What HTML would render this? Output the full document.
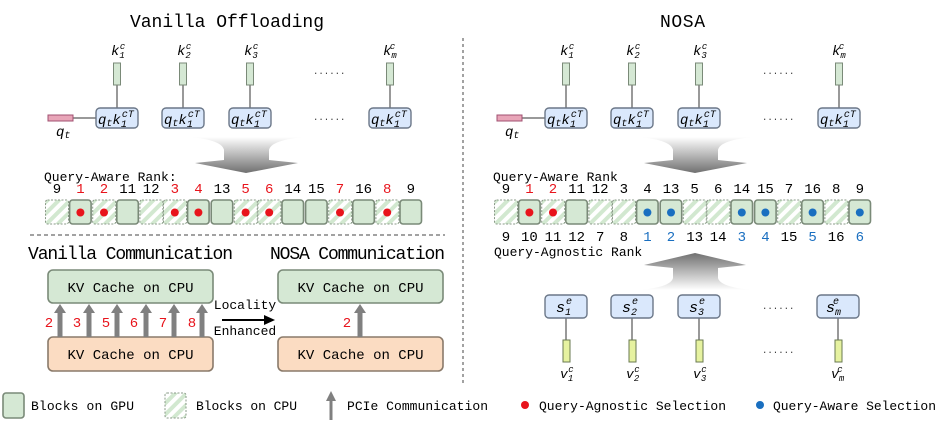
<!DOCTYPE html>
<html><head><meta charset="utf-8"><style>
html,body{margin:0;padding:0;background:#fff}
svg{display:block}
text{font-family:"Liberation Mono","DejaVu Sans Mono",monospace}
.n{font-family:"Liberation Sans",sans-serif;font-size:14px;text-anchor:middle}
.m{font-family:"Liberation Serif",serif;font-style:italic}
</style></head><body>
<svg width="947" height="423" viewBox="0 0 947 423" xmlns="http://www.w3.org/2000/svg">
<defs>
<pattern id="h" width="8" height="8" patternUnits="userSpaceOnUse" patternTransform="rotate(45)">
<rect width="8" height="8" fill="#fff"/><rect width="4" height="8" fill="#d2e8d0"/></pattern>
<linearGradient id="gd" x1="0" y1="0" x2="0" y2="1"><stop offset="0" stop-color="#fff"/><stop offset="1" stop-color="#707070"/></linearGradient>
<linearGradient id="gu" x1="0" y1="1" x2="0" y2="0"><stop offset="0" stop-color="#fff"/><stop offset="1" stop-color="#707070"/></linearGradient>
<g id="gpu"><rect x="1" y="0" width="21.5" height="24" rx="3" fill="#d5e8d4" stroke="#7a8a78" stroke-width="1.6"/></g>
<g id="cpu"><rect x="0.5" y="0" width="23" height="24" rx="2" fill="url(#h)" stroke="#8a9a88" stroke-width="1" stroke-dasharray="2,1.5"/></g>
</defs>

<text x="130" y="27" font-size="18" textLength="194">Vanilla Offloading</text>
<text x="660" y="27" font-size="18" textLength="45">NOSA</text>

<line x1="463" y1="38" x2="463" y2="385" stroke="#444" stroke-dasharray="3,3"/>
<line x1="30" y1="235" x2="445" y2="235" stroke="#444" stroke-dasharray="4,3"/>

<g id="topq">
<g stroke="#333" stroke-width="1">
<line x1="117" y1="85" x2="117" y2="108"/><line x1="183" y1="85" x2="183" y2="108"/>
<line x1="250" y1="85" x2="250" y2="108"/><line x1="390" y1="85" x2="390" y2="108"/>
<line x1="73" y1="118" x2="96" y2="118"/>
</g>
<g fill="#d5e8d4" stroke="#7a8a78">
<rect x="113.5" y="63" width="7" height="22"/><rect x="179.5" y="63" width="7" height="22"/>
<rect x="246.5" y="63" width="7" height="22"/><rect x="386.5" y="63" width="7" height="22"/>
</g>
<rect x="48" y="115" width="25" height="6" fill="#e8a5b8" stroke="#a05070"/>
<g fill="#dae8fc" stroke="#6b7788" stroke-width="1.4">
<rect x="96" y="108" width="42" height="20" rx="4"/><rect x="162" y="108" width="42" height="20" rx="4"/>
<rect x="229" y="108" width="42" height="20" rx="4"/><rect x="369" y="108" width="42" height="20" rx="4"/>
</g>
<g class="m" font-size="14">
<text x="98" y="124">q<tspan font-size="10" dy="2">t</tspan><tspan dy="-2">k</tspan><tspan font-size="10" dy="3">1</tspan><tspan font-size="10" dx="-5" dy="-10">cT</tspan></text>
<text x="164" y="124">q<tspan font-size="10" dy="2">t</tspan><tspan dy="-2">k</tspan><tspan font-size="10" dy="3">1</tspan><tspan font-size="10" dx="-5" dy="-10">cT</tspan></text>
<text x="231" y="124">q<tspan font-size="10" dy="2">t</tspan><tspan dy="-2">k</tspan><tspan font-size="10" dy="3">1</tspan><tspan font-size="10" dx="-5" dy="-10">cT</tspan></text>
<text x="371" y="124">q<tspan font-size="10" dy="2">t</tspan><tspan dy="-2">k</tspan><tspan font-size="10" dy="3">1</tspan><tspan font-size="10" dx="-5" dy="-10">cT</tspan></text>
<text x="56" y="136">q<tspan font-size="10" dy="2">t</tspan></text>
<text x="111" y="55">k<tspan font-size="9" dy="3">1</tspan><tspan font-size="9" dx="-5" dy="-9">c</tspan></text>
<text x="177" y="55">k<tspan font-size="9" dy="3">2</tspan><tspan font-size="9" dx="-5" dy="-9">c</tspan></text>
<text x="244" y="55">k<tspan font-size="9" dy="3">3</tspan><tspan font-size="9" dx="-5" dy="-9">c</tspan></text>
<text x="383" y="55">k<tspan font-size="9" dy="3">m</tspan><tspan font-size="9" dx="-7" dy="-9">c</tspan></text>
</g>
<text x="313" y="74" font-size="9" fill="#333">......</text>
<text x="313" y="120" font-size="9" fill="#333">......</text>
<path d="M190,137 Q222,140 224,150 L224,160 L195,163 L246,173 L298,163 L269,160 L269,150 Q271,140 305,137 Z" fill="url(#gd)"/>
</g>
<use href="#topq" x="449"/>

<text x="44" y="181" font-size="13">Query-Aware Rank:</text>
<text x="493" y="181" font-size="13">Query-Aware Rank</text>

<g transform="translate(45,200)">
<use href="#cpu" x="0"/><use href="#gpu" x="23.6"/><use href="#cpu" x="47.2"/><use href="#gpu" x="70.8"/>
<use href="#cpu" x="94.4"/><use href="#cpu" x="118"/><use href="#gpu" x="141.6"/><use href="#gpu" x="165.2"/>
<use href="#cpu" x="188.8"/><use href="#cpu" x="212.4"/><use href="#gpu" x="236"/><use href="#gpu" x="259.6"/>
<use href="#cpu" x="283.2"/><use href="#gpu" x="306.8"/><use href="#cpu" x="330.4"/><use href="#gpu" x="354"/>
<g fill="#e8141c"><circle cx="35.4" cy="12.5" r="4"/><circle cx="59" cy="12.5" r="4"/><circle cx="129.8" cy="12.5" r="4"/><circle cx="153.4" cy="12.5" r="4"/><circle cx="200.6" cy="12.5" r="4"/><circle cx="224.2" cy="12.5" r="4"/><circle cx="295" cy="12.5" r="4"/><circle cx="342.2" cy="12.5" r="4"/></g>
<g class="n">
<text x="12" y="-7">9</text><text x="35.4" y="-7" fill="#e8141c">1</text><text x="59" y="-7" fill="#e8141c">2</text><text x="82.6" y="-7">11</text><text x="106.2" y="-7">12</text><text x="129.8" y="-7" fill="#e8141c">3</text><text x="153.4" y="-7" fill="#e8141c">4</text><text x="177" y="-7">13</text><text x="200.6" y="-7" fill="#e8141c">5</text><text x="224.2" y="-7" fill="#e8141c">6</text><text x="247.8" y="-7">14</text><text x="271.4" y="-7">15</text><text x="295" y="-7" fill="#e8141c">7</text><text x="318.6" y="-7">16</text><text x="342.2" y="-7" fill="#e8141c">8</text><text x="365.8" y="-7">9</text>
</g></g>

<g transform="translate(494,200)">
<use href="#cpu" x="0"/><use href="#gpu" x="23.6"/><use href="#cpu" x="47.2"/><use href="#gpu" x="70.8"/>
<use href="#cpu" x="94.4"/><use href="#cpu" x="118"/><use href="#gpu" x="141.6"/><use href="#gpu" x="165.2"/>
<use href="#cpu" x="188.8"/><use href="#cpu" x="212.4"/><use href="#gpu" x="236"/><use href="#gpu" x="259.6"/>
<use href="#cpu" x="283.2"/><use href="#gpu" x="306.8"/><use href="#cpu" x="330.4"/><use href="#gpu" x="354"/>
<g fill="#e8141c"><circle cx="35.4" cy="12.5" r="4"/><circle cx="59" cy="12.5" r="4"/></g>
<g fill="#1a6fc0"><circle cx="153.4" cy="12.5" r="4"/><circle cx="177" cy="12.5" r="4"/><circle cx="247.8" cy="12.5" r="4"/><circle cx="271.4" cy="12.5" r="4"/><circle cx="318.6" cy="12.5" r="4"/><circle cx="365.8" cy="12.5" r="4"/></g>
<g class="n">
<text x="12" y="-7">9</text><text x="35.4" y="-7" fill="#e8141c">1</text><text x="59" y="-7" fill="#e8141c">2</text><text x="82.6" y="-7">11</text><text x="106.2" y="-7">12</text><text x="129.8" y="-7">3</text><text x="153.4" y="-7">4</text><text x="177" y="-7">13</text><text x="200.6" y="-7">5</text><text x="224.2" y="-7">6</text><text x="247.8" y="-7">14</text><text x="271.4" y="-7">15</text><text x="295" y="-7">7</text><text x="318.6" y="-7">16</text><text x="342.2" y="-7">8</text><text x="365.8" y="-7">9</text>
<text x="12" y="41">9</text><text x="35.4" y="41">10</text><text x="59" y="41">11</text><text x="82.6" y="41">12</text><text x="106.2" y="41">7</text><text x="129.8" y="41">8</text><text x="153.4" y="41" fill="#1a6fc0">1</text><text x="177" y="41" fill="#1a6fc0">2</text><text x="200.6" y="41">13</text><text x="224.2" y="41">14</text><text x="247.8" y="41" fill="#1a6fc0">3</text><text x="271.4" y="41" fill="#1a6fc0">4</text><text x="295" y="41">15</text><text x="318.6" y="41" fill="#1a6fc0">5</text><text x="342.2" y="41">16</text><text x="365.8" y="41" fill="#1a6fc0">6</text>
</g></g>
<text x="494" y="256" font-size="13">Query-Agnostic Rank</text>

<path d="M640,290 Q671,287 673,278 L673,268 L644,265 L695,253 L746,265 L718,268 L718,278 Q720,287 752,290 Z" fill="url(#gu)"/>

<g stroke="#333"><line x1="566" y1="318" x2="566" y2="340"/><line x1="632" y1="318" x2="632" y2="340"/><line x1="699" y1="318" x2="699" y2="340"/><line x1="838" y1="318" x2="838" y2="340"/></g>
<g fill="#dae8fc" stroke="#6b7788" stroke-width="1.4">
<rect x="545" y="295" width="42" height="23" rx="4"/><rect x="611" y="295" width="42" height="23" rx="4"/><rect x="678" y="295" width="42" height="23" rx="4"/><rect x="817" y="295" width="42" height="23" rx="4"/>
</g>
<g fill="#e6f2a0" stroke="#6a7a50"><rect x="563" y="340" width="7" height="22"/><rect x="629" y="340" width="7" height="22"/><rect x="696" y="340" width="7" height="22"/><rect x="835" y="340" width="7" height="22"/></g>
<g class="m" font-size="15">
<text x="556" y="312">s<tspan font-size="10" dy="3">1</tspan><tspan font-size="10" dx="-5" dy="-11">e</tspan></text>
<text x="622" y="312">s<tspan font-size="10" dy="3">2</tspan><tspan font-size="10" dx="-5" dy="-11">e</tspan></text>
<text x="689" y="312">s<tspan font-size="10" dy="3">3</tspan><tspan font-size="10" dx="-5" dy="-11">e</tspan></text>
<text x="826" y="312">s<tspan font-size="10" dy="3">m</tspan><tspan font-size="10" dx="-8" dy="-11">e</tspan></text>
</g>
<g class="m" font-size="13">
<text x="560" y="378">v<tspan font-size="9" dy="3">1</tspan><tspan font-size="9" dx="-5" dy="-9">c</tspan></text>
<text x="626" y="378">v<tspan font-size="9" dy="3">2</tspan><tspan font-size="9" dx="-5" dy="-9">c</tspan></text>
<text x="693" y="378">v<tspan font-size="9" dy="3">3</tspan><tspan font-size="9" dx="-5" dy="-9">c</tspan></text>
<text x="831" y="378">v<tspan font-size="9" dy="3">m</tspan><tspan font-size="9" dx="-7" dy="-9">c</tspan></text>
</g>
<text x="762" y="309" font-size="9" fill="#333">......</text>
<text x="762" y="353" font-size="9" fill="#333">......</text>

<text x="28" y="259" font-size="18" textLength="205">Vanilla Communication</text>
<text x="270" y="259" font-size="18" textLength="175">NOSA Communication</text>
<g stroke-width="1.6">
<rect x="48" y="270" width="165" height="33" rx="5" fill="#d5e8d4" stroke="#7a8a78"/>
<rect x="48" y="337" width="165" height="34" rx="5" fill="#fbdcc2" stroke="#8a7a6a"/>
<rect x="278" y="270" width="165" height="33" rx="5" fill="#d5e8d4" stroke="#7a8a78"/>
<rect x="278" y="337" width="165" height="34" rx="5" fill="#fbdcc2" stroke="#8a7a6a"/>
</g>
<g font-size="14" text-anchor="middle">
<text x="130.5" y="292">KV Cache on CPU</text><text x="130.5" y="359">KV Cache on CPU</text>
<text x="360.5" y="292">KV Cache on CPU</text><text x="360.5" y="359">KV Cache on CPU</text>
</g>
<g fill="#808080">
<path d="M57.5,337 V313 H54 L60,304 L66,313 H62.5 V337Z"/>
<path d="M86.5,337 V313 H83 L89,304 L95,313 H91.5 V337Z"/>
<path d="M114.5,337 V313 H111 L117,304 L123,313 H119.5 V337Z"/>
<path d="M143.5,337 V313 H140 L146,304 L152,313 H148.5 V337Z"/>
<path d="M171.5,337 V313 H168 L174,304 L180,313 H176.5 V337Z"/>
<path d="M199.5,337 V313 H196 L202,304 L208,313 H204.5 V337Z"/>
<path d="M357.5,337 V313 H354 L360,304 L366,313 H362.5 V337Z"/>
</g>
<g class="n" fill="#e8141c" font-size="14">
<text x="49" y="327">2</text><text x="77" y="327">3</text><text x="106" y="327">5</text><text x="134" y="327">6</text><text x="163" y="327">7</text><text x="192" y="327">8</text><text x="347" y="327">2</text>
</g>
<text x="245" y="309" font-size="13" text-anchor="middle">Locality</text>
<text x="245" y="335" font-size="13" text-anchor="middle">Enhanced</text>
<line x1="222" y1="320" x2="266" y2="320" stroke="#000" stroke-width="2"/>
<path d="M264,315 L275,320 L264,325Z" fill="#000"/>

<rect x="3" y="393" width="21" height="25" rx="3" fill="#d5e8d4" stroke="#7a8a78" stroke-width="1.6"/>
<text x="31" y="410" font-size="13" textLength="103">Blocks on GPU</text>
<rect x="165" y="393" width="21" height="25" rx="2" fill="url(#h)" stroke="#8a9a88" stroke-dasharray="2,1.5"/>
<text x="196" y="410" font-size="13" textLength="101">Blocks on CPU</text>
<path d="M329.5,420 V401 H326 L331,391 L336,401 H332.5 V420Z" fill="#808080"/>
<text x="347" y="410" font-size="13" textLength="141">PCIe Communication</text>
<circle cx="525" cy="405" r="4" fill="#e8141c"/>
<text x="539" y="410" font-size="13" textLength="187">Query-Agnostic Selection</text>
<circle cx="760" cy="405" r="4" fill="#1a6fc0"/>
<text x="773" y="410" font-size="13" textLength="163">Query-Aware Selection</text>
</svg>
</body></html>
